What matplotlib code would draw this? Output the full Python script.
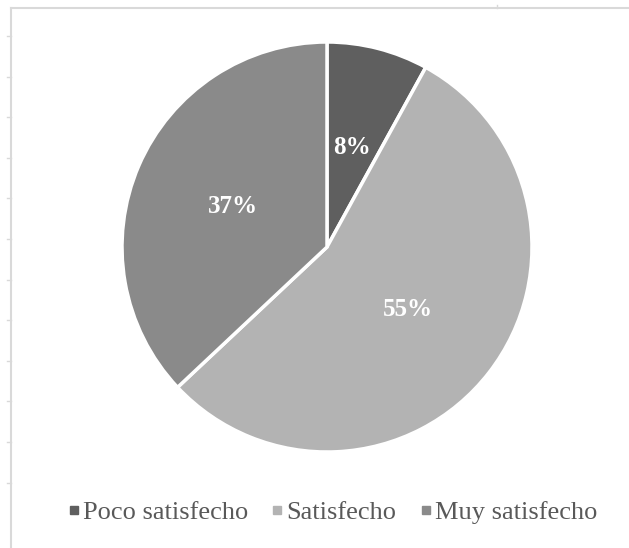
import matplotlib.pyplot as plt
from matplotlib.lines import Line2D
import numpy as np

plt.rcParams['font.family'] = ['Liberation Serif', 'DejaVu Serif']

# Data
categories = ['Poco satisfecho', 'Satisfecho', 'Muy satisfecho']
values = [8, 55, 37]
colors = ['#5f5f5f', '#b3b3b3', '#8a8a8a']

W, H = 629, 548
fig = plt.figure(figsize=(W / 100, H / 100), dpi=100)
fig.patch.set_facecolor('white')

# pie area in pixels: center (327, 247 from top), radius 205
cx, cy, r = 327, 247, 205
ax = fig.add_axes([(cx - r) / W, (H - cy - r) / H, 2 * r / W, 2 * r / H])

wedges, texts, autotexts = ax.pie(
    values, colors=colors, startangle=90, counterclock=False,
    autopct='%1.0f%%', pctdistance=0.5, radius=1,
    wedgeprops={'edgecolor': 'white', 'linewidth': 2.5},
    textprops={'color': 'white', 'fontsize': 18, 'fontweight': 'bold'})
ax.set_xlim(-1, 1)
ax.set_ylim(-1, 1)

# chart frame remnants (top and left border with small ticks)
border = '#d9d9d9'
fig.add_artist(Line2D([11 / W, 1], [1 - 8 / H, 1 - 8 / H], color=border, lw=1.5))
fig.add_artist(Line2D([11 / W, 11 / W], [0, 1 - 8 / H], color=border, lw=1.5))
for ty in np.arange(36, 490, 40.6):
    fig.add_artist(Line2D([7 / W, 11 / W], [1 - ty / H, 1 - ty / H], color=border, lw=1))
fig.add_artist(Line2D([497 / W, 497 / W], [1 - 5 / H, 1 - 8 / H], color=border, lw=1))

# legend
handles = [Line2D([], [], marker='s', linestyle='None', markersize=5.5,
                  markerfacecolor=c, markeredgecolor=c) for c in colors]
leg = fig.legend(handles, categories, loc='center', ncol=3,
                 bbox_to_anchor=(333 / W, 1 - 512 / H), frameon=False,
                 fontsize=19, handlelength=0.4, handletextpad=0.15,
                 columnspacing=0.9, labelcolor='#595959',
                 borderpad=0, borderaxespad=0)

fig.savefig('out.png', dpi=100, facecolor='white')
